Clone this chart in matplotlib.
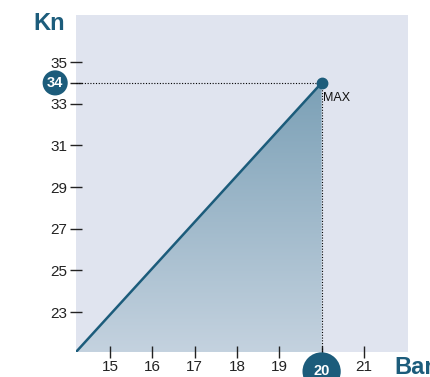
import numpy as np
import matplotlib
matplotlib.use("Agg")
import matplotlib.pyplot as plt
from matplotlib.colors import LinearSegmentedColormap

# Pressure (Bar) vs force (Kn): linear rise up to the rated maximum
bar_values = [14.2, 20.0]
kn_values = [21.08, 34.0]
x_ticks = [15, 16, 17, 18, 19, 20, 21]
y_ticks = [23, 25, 27, 29, 31, 33, 34, 35]
max_bar = 20
max_kn = 34

TEAL = "#1c5c7b"
BG = "#e0e4ef"
FONT = ["Liberation Sans", "DejaVu Sans"]

fig = plt.figure(figsize=(4.3, 3.77), dpi=100)
ax = fig.add_axes([76 / 430, 1 - 352 / 377, 332 / 430, 337 / 377])
ax.set_facecolor(BG)
for s in ax.spines.values():
    s.set_visible(False)

xmin, xmax = 14.2, 22.04
ymin, ymax = 21.08, 37.26
ax.set_xlim(xmin, xmax)
ax.set_ylim(ymin, ymax)

# Gradient fill beneath the line
poly = ax.fill_between(bar_values, kn_values, ymin, color="none", lw=0)
grad = LinearSegmentedColormap.from_list("g", ["#c4d2df", "#7ba0b6"])
img = ax.imshow(np.linspace(0, 1, 256).reshape(-1, 1), cmap=grad, aspect="auto",
                origin="lower", extent=[xmin, max_bar, ymin, max_kn], zorder=1)
img.set_clip_path(poly.get_paths()[0], transform=ax.transData)

ax.plot(bar_values, kn_values, color=TEAL, lw=1.8, zorder=3, solid_capstyle="butt")
ax.plot([max_bar], [max_kn], "o", color=TEAL, ms=7.5, zorder=4)

# Dotted guides to the maximum point
ax.plot([xmin, max_bar], [max_kn, max_kn], color="black", lw=0.8, ls=(0, (1, 1.5)), zorder=2)
ax.plot([max_bar, max_bar], [ymin, max_kn], color="black", lw=0.8, ls=(0, (1, 1.5)), zorder=2)

ax.annotate("MAX", (max_bar, max_kn), xytext=(1, -6.5), textcoords="offset points",
            ha="left", va="top", fontsize=9, family=FONT, color="#111111")

ax.set_xticks(x_ticks)
ax.set_xticklabels(["" if t == max_bar else str(t) for t in x_ticks])
ax.set_yticks(y_ticks)
ax.set_yticklabels(["" if t == max_kn else str(t) for t in y_ticks])
ax.tick_params(axis="both", direction="inout", length=9, width=1.0, color="#222222",
               labelsize=11, labelcolor="#222222")
ax.tick_params(axis="y", pad=2)
ax.tick_params(axis="x", pad=1)
for lab in ax.get_xticklabels() + ax.get_yticklabels():
    lab.set_family(FONT)

# Highlighted max values on the axes
ax.annotate(str(max_kn), (xmin, max_kn), xytext=(-15, 0), textcoords="offset points",
            ha="center", va="center", fontsize=10.5, fontweight="bold", color="white",
            family=FONT, annotation_clip=False,
            bbox=dict(boxstyle="circle,pad=0.3", fc=TEAL, ec="none"))
ax.annotate(str(max_bar), (max_bar, ymin), xytext=(0, -14), textcoords="offset points",
            ha="center", va="center", fontsize=10.5, fontweight="bold", color="white",
            family=FONT, annotation_clip=False,
            bbox=dict(boxstyle="circle,pad=0.75", fc=TEAL, ec="none"))

fig.text(33 / 430, 1 - 24 / 377, "Kn", ha="left", va="center", fontsize=17,
         fontweight="bold", color=TEAL, family=FONT)
fig.text(394 / 430, 1 - 368 / 377, "Bar", ha="left", va="center", fontsize=17,
         fontweight="bold", color=TEAL, family=FONT)

fig.savefig("out.png", dpi=100)
